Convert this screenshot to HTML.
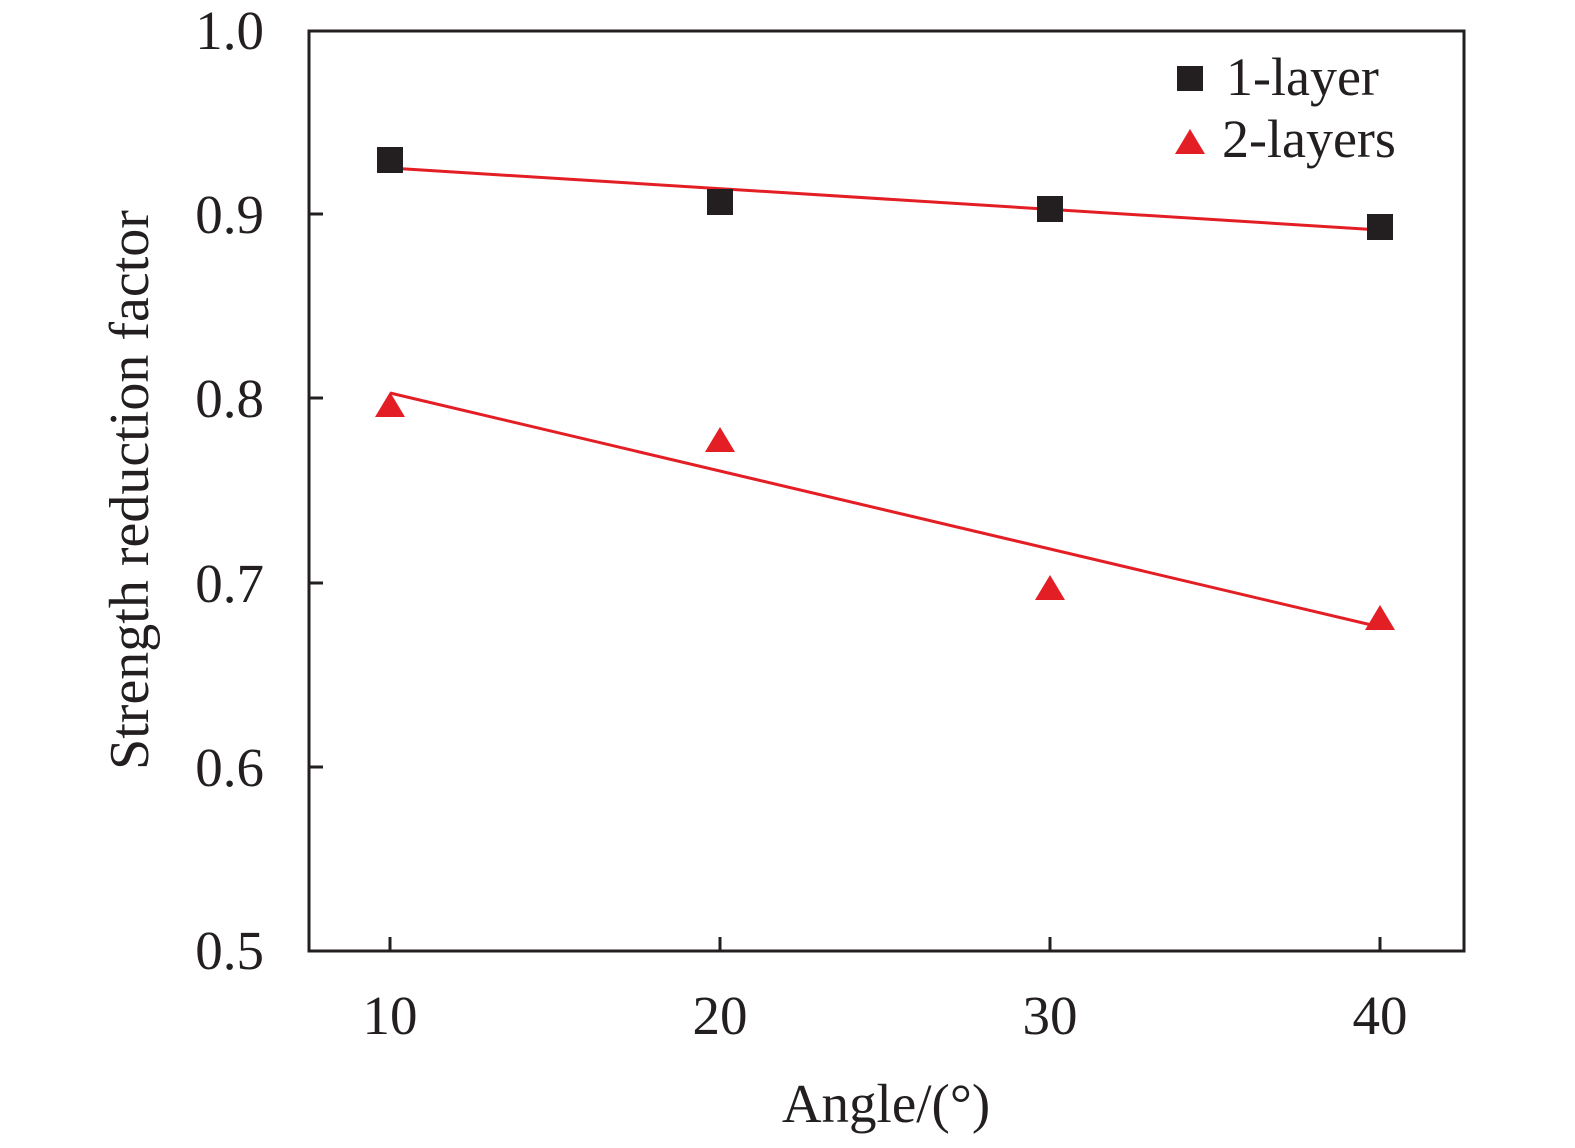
<!DOCTYPE html>
<html><head><meta charset="utf-8"><style>body{margin:0;background:#fff}</style></head><body>
<svg width="1575" height="1143" xmlns="http://www.w3.org/2000/svg" font-family="Liberation Serif, serif" fill="#231f20">
<rect x="309" y="31" width="1155" height="920" fill="none" stroke="#231f20" stroke-width="3"/>
<g stroke="#231f20" stroke-width="3">
<line x1="390" y1="951" x2="390" y2="937"/><line x1="720" y1="951" x2="720" y2="937"/>
<line x1="1050" y1="951" x2="1050" y2="937"/><line x1="1380" y1="951" x2="1380" y2="937"/>
<line x1="309" y1="214" x2="323" y2="214"/><line x1="309" y1="398" x2="323" y2="398"/>
<line x1="309" y1="583" x2="323" y2="583"/><line x1="309" y1="767" x2="323" y2="767"/>
</g>
<g font-size="55" text-anchor="end">
<text x="264" y="49">1.0</text><text x="264" y="233">0.9</text><text x="264" y="417">0.8</text>
<text x="264" y="602">0.7</text><text x="264" y="786">0.6</text><text x="264" y="969">0.5</text>
</g>
<g font-size="55" text-anchor="middle">
<text x="390" y="1034">10</text><text x="720" y="1034">20</text><text x="1050" y="1034">30</text><text x="1380" y="1034">40</text>
<text x="886" y="1122">Angle/(°)</text>
</g>
<text font-size="56" text-anchor="middle" transform="translate(148,490) rotate(-90)">Strength reduction factor</text>
<g stroke="#e31e24" stroke-width="3">
<line x1="390" y1="168" x2="1380" y2="230"/>
<line x1="390" y1="393" x2="1380" y2="627"/>
</g>
<g>
<rect x="377" y="147" width="26" height="26"/><rect x="707" y="189" width="26" height="26"/>
<rect x="1037" y="196" width="26" height="26"/><rect x="1367" y="214" width="26" height="26"/>
<rect x="1177" y="66" width="26" height="25"/>
</g>
<g fill="#e31e24">
<polygon points="390,392 375,417 405,417"/><polygon points="720,427 705,452 735,452"/>
<polygon points="1050,575 1035,600 1065,600"/><polygon points="1380,605 1365,630 1395,630"/>
<polygon points="1190,129 1175,154 1205,154"/>
</g>
<g font-size="54"><text x="1226" y="95">1-layer</text><text x="1222" y="157">2-layers</text></g>
</svg>
</body></html>
